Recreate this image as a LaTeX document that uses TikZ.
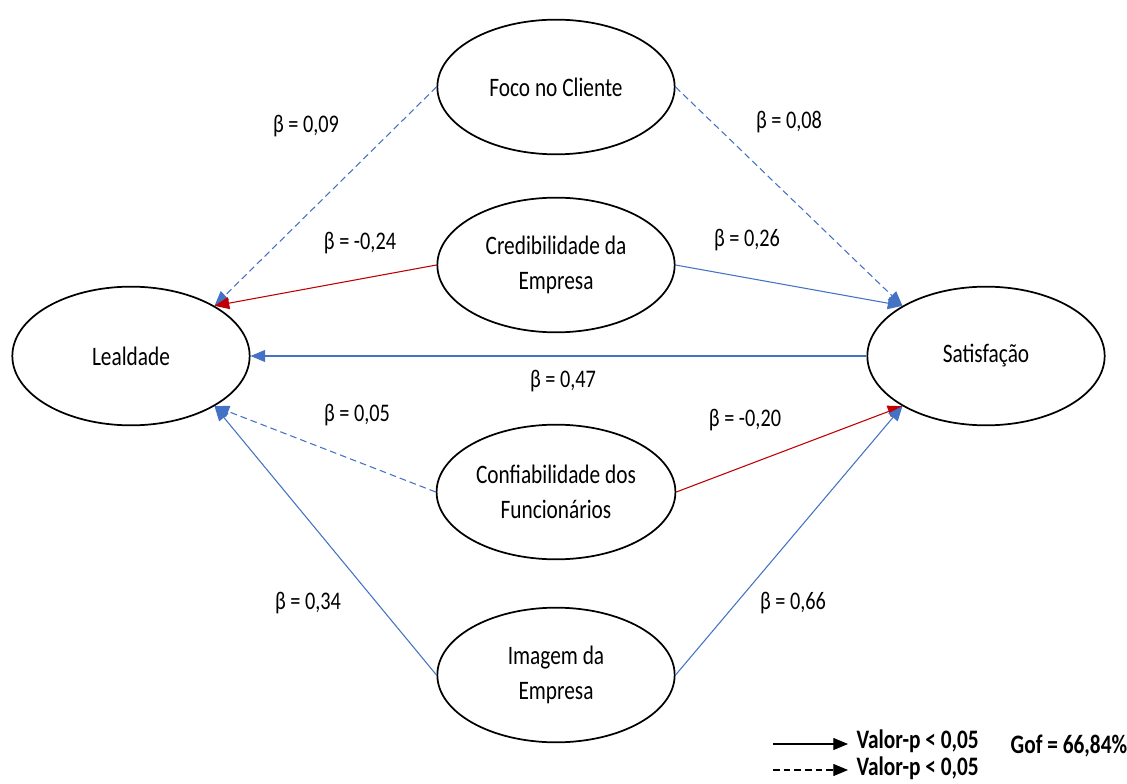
\documentclass[tikz,border=0pt]{standalone}
\usepackage{fontspec}
\setmainfont{Carlito}[FakeStretch=0.8]
\usetikzlibrary{shapes.geometric, arrows.meta, positioning}
\definecolor{pathblue}{HTML}{4472C4}
\definecolor{pathred}{HTML}{C00000}
\tikzset{
construct/.style={ellipse, draw, line width=1.3pt, minimum width=178pt, minimum height=101pt, align=center, font=\fontsize{20}{26}\selectfont}, % latent variables
path/.style={line width=0.8pt, -{Triangle[length=11pt,width=9pt]}}, % every structural path
signif/.style={path, pathblue}, % significant, positive
negative/.style={path, pathred}, % significant, negative
nonsig/.style={path, pathblue, dash pattern=on 5pt off 3pt}, % not significant
coef/.style={font=\fontsize{19}{22}\selectfont}, % the beta values
legend/.style={font=\bfseries\fontsize{20}{22}\selectfont, anchor=west},
}

\begin{document}
\begin{tikzpicture}[x=0.75pt, y=-0.75pt]
    \useasboundingbox (0,0) rectangle (1127,784);
    % constructs
    \node[construct, minimum height=104pt] (lea) at (131,356) {Lealdade};
    \node[construct, minimum height=104pt] (sat) at (986,356) {Satisfação};
    \node[construct] (foco) at (556,87) {Foco no Cliente};
    \node[construct] (cred) at (556,265) {Credibilidade da\\Empresa};
    \node[construct] (conf) at (556,492) {Confiabilidade dos\\Funcionários};
    \node[construct] (imag) at (556,675) {Imagem da\\Empresa};
    % paths
    \draw[nonsig] (foco.west) -- (lea.31);
    \draw[nonsig] (foco.east) -- (sat.149);
    \draw[negative] (cred.west) -- (lea.31);
    \draw[signif] (cred.east) -- (sat.149);
    \draw[signif] (sat.west) -- (lea.east);
    \draw[nonsig] (conf.west) -- (lea.-31);
    \draw[negative] (conf.east) -- (sat.-149);
    \draw[signif] (imag.west) -- (lea.-31);
    \draw[signif] (imag.east) -- (sat.-149);
    % coefficients
    \node[coef] (b1) at (306,126) {β = 0,09};
    \node[coef] (b2) at (789,122) {β = 0,08};
    \node[coef] (b3) at (360,243) {β = -0,24};
    \node[coef] (b4) at (747,240) {β = 0,26};
    \node[coef] (b5) at (563,381) {β = 0,47};
    \node[coef] (b6) at (357,415) {β = 0,05};
    \node[coef] (b7) at (745,420) {β = -0,20};
    \node[coef] (b8) at (308,603) {β = 0,34};
    \node[coef] (b9) at (793,603) {β = 0,66};
    % legend
    \coordinate (l1a) at (773,744);
    \coordinate (l1b) at (848,744);
    \coordinate (l2a) at (773,770);
    \coordinate (l2b) at (848,770);
    \draw[line width=0.8pt, black, -{Triangle[length=11pt,width=9pt]}] (l1a) -- (l1b);
    \draw[line width=0.8pt, black, dash pattern=on 5pt off 3pt, -{Triangle[length=11pt,width=9pt]}] (l2a) -- (l2b);
    \node[legend] (v1) at (852,741) {Valor-p < 0,05};
    \node[legend] (v2) at (852,768) {Valor-p < 0,05};
    \node[legend] (gof) at (1006,746) {Gof = 66,84\%};
\end{tikzpicture}
\end{document}
